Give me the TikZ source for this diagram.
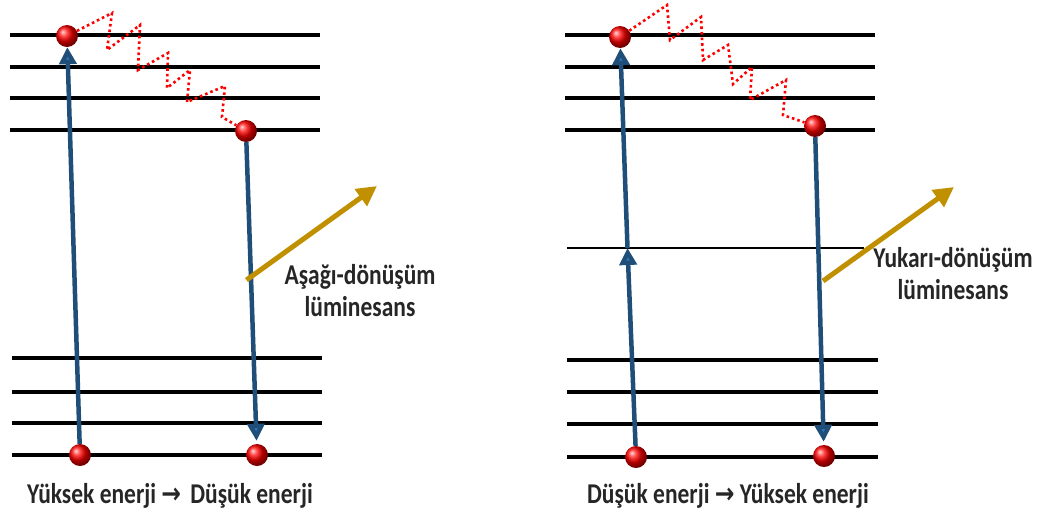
\documentclass[tikz,border=0pt]{standalone}
\usepackage{fontspec}
\usepackage{graphicx}
\setmainfont{Carlito}
\newfontfamily\symfont{DejaVu Sans}
\usetikzlibrary{arrows.meta}
\definecolor{bluearr}{HTML}{1F4E79}
\definecolor{bluehead}{HTML}{2E75B6}
\definecolor{goldarr}{HTML}{C09000}
\definecolor{txt}{HTML}{262626}
\newcommand{\tallt}[1]{\scalebox{1}[1.22]{\begin{tabular}{@{}c@{}}#1\end{tabular}}}
\tikzset{
  level/.style={line width=4.2pt, black},
  thinlevel/.style={line width=1.2pt, black},
  ball/.style={circle, inner sep=0pt, minimum size=22pt, ball color=red, draw=none},
  transition/.style={line width=4.5pt, bluearr, -{Triangle[width=17pt,length=17pt,fill=bluehead]}},
  emission/.style={line width=5pt, goldarr, -{Triangle[width=20pt,length=20pt]}},
  relax/.style={red, line width=2.6pt, dash pattern=on 2.6pt off 3pt},
  lbl/.style={font=\bfseries\fontsize{23.5}{26}\selectfont, text=txt, inner sep=0pt}
}
\begin{document}
\begin{tikzpicture}[x=1pt,y=-1pt]
\useasboundingbox (0,0) rectangle (1048,520);
% ---------- left panel ----------
\foreach \y in {35,67,98,130} \draw[level] (10,\y) -- (320,\y);
\foreach \y in {358,392,423,455} \draw[level] (12,\y) -- (322,\y);
\node[ball] (lt) at (67,36) {};
\node[ball] (lm) at (246,131) {};
\node[ball] (lb) at (80,455) {};
\node[ball] (lr) at (257,455) {};
\draw[transition] (lb) -- (lt);
\draw[transition, shorten >=3pt] (lm) -- (lr);
\coordinate (le) at (246.5,280);
\coordinate (lf) at (377,186);
\draw[emission] (le) -- (lf);
\draw[relax] (lt) -- (112,13) -- (107,50) -- (140,25) -- (138,70) -- (168,53) -- (167,88) -- (190,70) -- (187,102) -- (225,86) -- (222,117) -- (lm);
\node[lbl] (ll) at (360,294) {\tallt{Aşağı-dönüşüm\\lüminesans}};
\node[lbl] (lc) at (170,497) {\tallt{Yüksek enerji {\symfont\bfseries →}\, Düşük enerji}};
% ---------- right panel ----------
\foreach \y in {35,67,98,130} \draw[level] (565,\y) -- (875,\y);
\draw[thinlevel] (567,248) -- (864,248);
\foreach \y in {360,392,424,457} \draw[level] (567,\y) -- (878,\y);
\node[ball] (rt) at (620,37) {};
\node[ball] (rm) at (815,126) {};
\node[ball] (rb) at (636,457) {};
\node[ball] (rr) at (824,456) {};
\coordinate (rv) at (627.5,248);
\draw[transition] (rb) -- (rv);
\draw[transition] (rv) -- (rt);
\draw[transition, shorten >=3pt] (rm) -- (rr);
\coordinate (re) at (823,281);
\coordinate (rf) at (954,187);
\draw[emission] (re) -- (rf);
\draw[relax] (rt) -- (667,5) -- (670,40) -- (701,17) -- (703,60) -- (728,45) -- (733,84) -- (752,67) -- (750,100) -- (786,80) -- (783,115) -- (rm);
\node[lbl] (rl) at (953,277) {\tallt{Yukarı-dönüşüm\\lüminesans}};
\node[lbl] (rc) at (728,497) {\tallt{Düşük enerji {\symfont\bfseries →} Yüksek enerji}};
\end{tikzpicture}
\end{document}
